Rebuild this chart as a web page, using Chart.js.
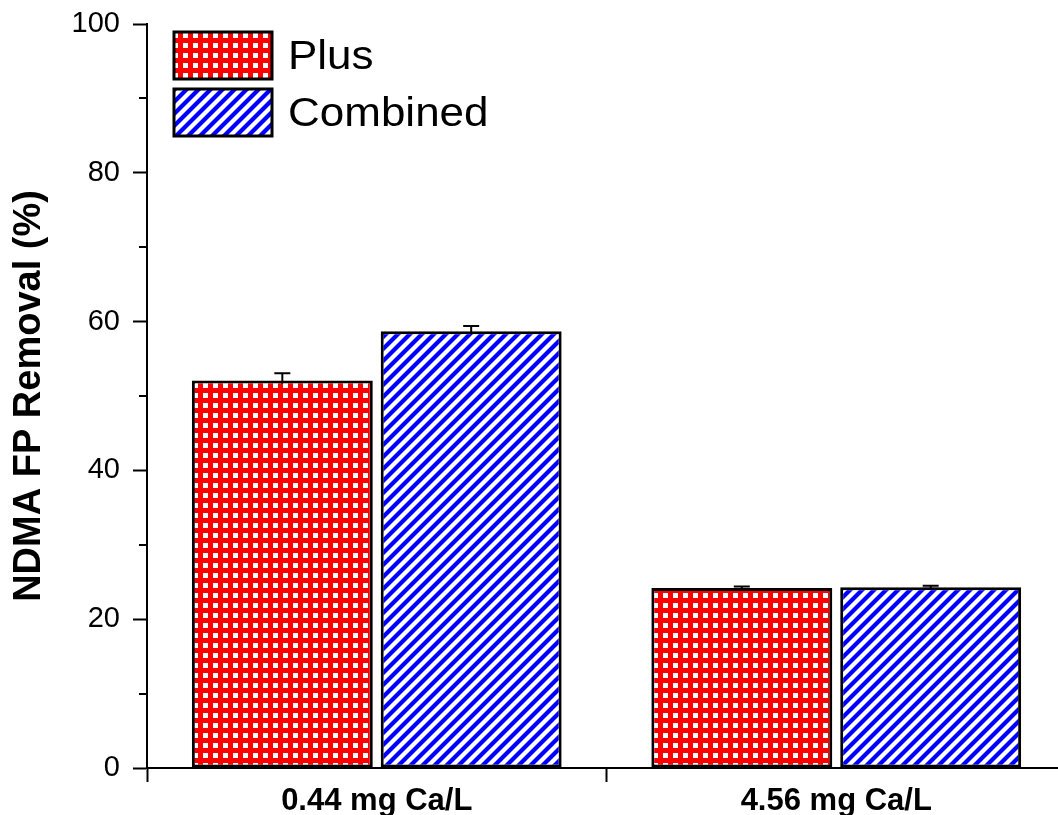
<!DOCTYPE html>
<html>
<head>
<meta charset="utf-8">
<script src="https://cdn.jsdelivr.net/npm/chart.js@4/dist/chart.umd.min.js"></script>
<style>
html,body{margin:0;padding:0;background:#fff;overflow:hidden;width:1058px;height:815px}
#wrap{width:1070px;height:815px}
</style>
</head>
<body>
<div id="wrap"><canvas id="c" width="1070" height="815"></canvas></div>
<script>
const categories = ['0.44 mg Ca/L', '4.56 mg Ca/L'];
const seriesNames = ['Plus', 'Combined'];
const plusValues = [52.1, 24.2];
const combinedValues = [58.7, 24.3];
const plusErrors = [0.95, 0.2];
const combinedErrors = [0.7, 0.2];
const yTickValues = [0, 20, 40, 60, 80, 100];
const yMinorTickValues = [10, 30, 50, 70, 90];
const yTitle = 'NDMA FP Removal (%)';

function makeGridPattern() {
  const t = document.createElement('canvas');
  t.width = 10; t.height = 10;
  const g = t.getContext('2d');
  g.fillStyle = '#ff0000';
  g.fillRect(0, 0, 10, 10);
  g.fillStyle = '#ffffff';
  g.fillRect(3, 3, 5, 5);
  return g.createPattern(t, 'repeat');
}
function makeStripePattern() {
  const s = 12;
  const t = document.createElement('canvas');
  t.width = s; t.height = s;
  const g = t.getContext('2d');
  g.fillStyle = '#ffffff';
  g.fillRect(0, 0, s, s);
  g.strokeStyle = '#0000ff';
  g.lineWidth = 4.2;
  g.lineCap = 'square';
  [[-s, s, s, -s], [0, s, s, 0], [0, 2 * s, 2 * s, 0]].forEach(function (l) {
    g.beginPath(); g.moveTo(l[0], l[1]); g.lineTo(l[2], l[3]); g.stroke();
  });
  return g.createPattern(t, 'repeat');
}
const redGrid = makeGridPattern();
const blueStripes = makeStripePattern();
const errorSets = [plusErrors, combinedErrors];

const errorBarPlugin = {
  id: 'errorBars',
  beforeDatasetsDraw(chart) {
    const ctx = chart.ctx;
    const ys = chart.scales.y;
    ctx.save();
    ctx.strokeStyle = '#000';
    ctx.lineWidth = 2;
    chart.data.datasets.forEach(function (ds, di) {
      const meta = chart.getDatasetMeta(di);
      meta.data.forEach(function (bar, i) {
        const v = ds.data[i], e = errorSets[di][i];
        const yt = ys.getPixelForValue(v + e);
        const yb = ys.getPixelForValue(v - e);
        ctx.beginPath();
        ctx.moveTo(bar.x, yt); ctx.lineTo(bar.x, yb);
        ctx.moveTo(bar.x - 8, yt); ctx.lineTo(bar.x + 8, yt);
        ctx.moveTo(bar.x - 8, yb); ctx.lineTo(bar.x + 8, yb);
        ctx.stroke();
      });
    });
    ctx.restore();
  }
};

const minorTickPlugin = {
  id: 'minorTicks',
  afterDraw(chart) {
    const ctx = chart.ctx;
    const ys = chart.scales.y;
    const x = chart.chartArea.left;
    ctx.save();
    ctx.strokeStyle = '#000';
    ctx.lineWidth = 2;
    yMinorTickValues.forEach(function (v) {
      const y = Math.round(ys.getPixelForValue(v));
      ctx.beginPath(); ctx.moveTo(x - 8, y); ctx.lineTo(x, y); ctx.stroke();
    });
    ctx.restore();
  }
};

const legendPlugin = {
  id: 'customLegend',
  afterDraw(chart) {
    const ctx = chart.ctx;
    ctx.save();
    chart.data.datasets.forEach(function (ds, i) {
      const bx = 174, by = 32 + i * 57, bw = 98, bh = 47;
      ctx.fillStyle = ds.backgroundColor;
      ctx.fillRect(bx, by, bw, bh);
      ctx.strokeStyle = '#000';
      ctx.lineWidth = 3;
      ctx.strokeRect(bx, by, bw, bh);
      ctx.save();
      ctx.translate(288, by + bh / 2 + 2);
      ctx.scale(1.1, 1);
      ctx.fillStyle = '#000';
      ctx.font = '40px "Liberation Sans", Arial, sans-serif';
      ctx.textBaseline = 'middle';
      ctx.textAlign = 'left';
      ctx.fillText(ds.label, 0, 0);
      ctx.restore();
    });
    ctx.restore();
  }
};

new Chart(document.getElementById('c'), {
  type: 'bar',
  data: {
    labels: categories,
    datasets: [
      { label: seriesNames[0], data: plusValues, backgroundColor: redGrid, borderColor: '#000', borderWidth: 3, borderSkipped: false },
      { label: seriesNames[1], data: combinedValues, backgroundColor: blueStripes, borderColor: '#000', borderWidth: 3, borderSkipped: false }
    ]
  },
  plugins: [errorBarPlugin, minorTickPlugin, legendPlugin],
  options: {
    responsive: false,
    animation: false,
    devicePixelRatio: 1,
    layout: { padding: { left: 0, top: 24, right: 4, bottom: 0 } },
    datasets: { bar: { categoryPercentage: 0.822, barPercentage: 0.958 } },
    plugins: { legend: { display: false }, tooltip: { enabled: false } },
    scales: {
      x: {
        offset: true,
        grid: { offset: true, drawOnChartArea: false, drawTicks: true, tickLength: 14, color: '#000', tickWidth: 2 },
        border: { color: '#000', width: 2 },
        ticks: { color: '#000', padding: 1, font: { family: '"Liberation Sans", Arial, sans-serif', size: 31, weight: 'bold' } },
        afterFit(scale) { scale.height = 47; scale.paddingLeft = 0; scale.paddingRight = 0; }
      },
      y: {
        min: 0, max: 100,
        afterBuildTicks(scale) { scale.ticks = yTickValues.map(function (v) { return { value: v }; }); },
        grid: { drawOnChartArea: false, drawTicks: true, tickLength: 14, color: '#000', tickWidth: 2 },
        border: { color: '#000', width: 2 },
        ticks: { color: '#000', padding: 13, font: { family: '"Liberation Sans", Arial, sans-serif', size: 29 } },
        title: { display: true, text: yTitle, color: '#000', padding: { top: 7, bottom: 0 }, font: { family: '"Liberation Sans", Arial, sans-serif', size: 38, weight: 'bold' } },
        afterFit(scale) { scale.width = 147; scale.paddingTop = 0; scale.paddingBottom = 0; }
      }
    }
  }
});
</script>
</body>
</html>
